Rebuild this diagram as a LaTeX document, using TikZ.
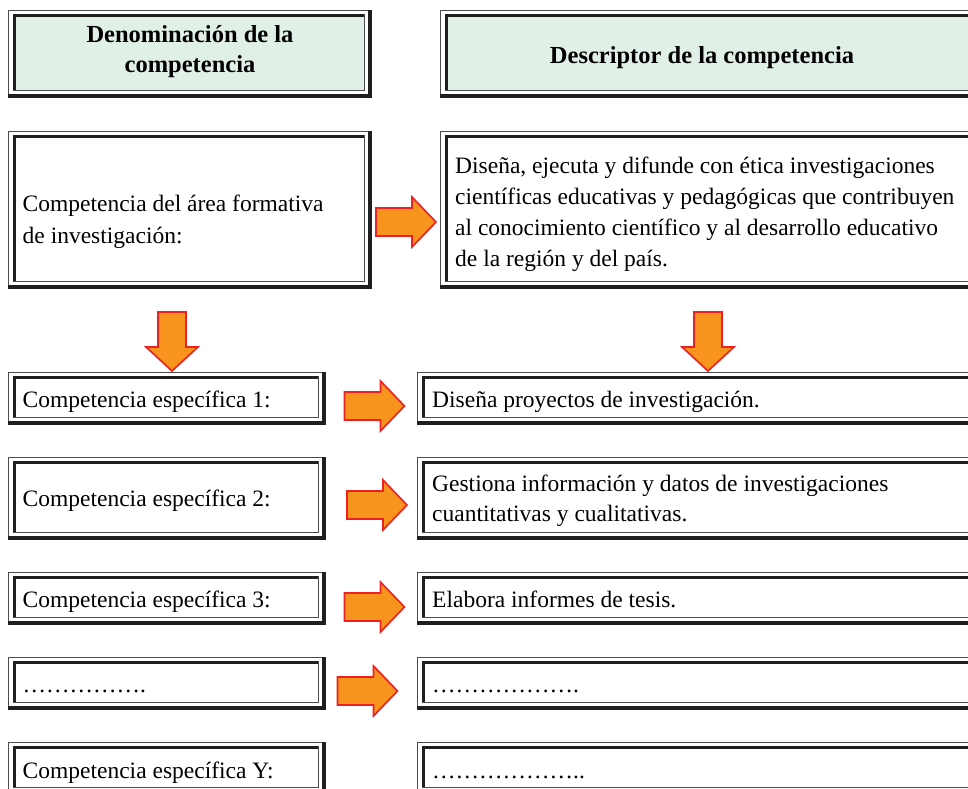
\documentclass[tikz,border=0pt]{standalone}
\usepackage{fontspec}
\setmainfont{Liberation Serif}
\definecolor{hdrfill}{RGB}{224,240,230}
\definecolor{arrfill}{RGB}{247,148,30}
\definecolor{arrline}{RGB}{237,32,36}
\newcommand\frmcode{%
 \draw[line width=1.2pt, black!70] ([xshift=.6pt]path picture bounding box.south west) -- ([shift={(.6pt,-.6pt)}]path picture bounding box.north west) -- ([yshift=-.6pt]path picture bounding box.north east);
 \draw[line width=4pt, black!88] ([xshift=-2pt]path picture bounding box.north east) -- ([shift={(-2pt,2pt)}]path picture bounding box.south east) -- ([yshift=2pt]path picture bounding box.south west);
 \draw[line width=3.5pt, black!88] ([shift={(6.5pt,7.5pt)}]path picture bounding box.south west) -- ([shift={(6.5pt,-5.2pt)}]path picture bounding box.north west) -- ([shift={(-7.5pt,-5.2pt)}]path picture bounding box.north east);
 \draw[line width=1.2pt, black!70] ([shift={(-7.5pt,-3.5pt)}]path picture bounding box.north east) -- ([shift={(-7.5pt,7.5pt)}]path picture bounding box.south east) -- ([shift={(4.8pt,7.5pt)}]path picture bounding box.south west);
}
\newcommand\fillcode{%
 \fill[hdrfill] ([shift={(8pt,7.5pt)}]path picture bounding box.south west) rectangle ([shift={(-7.5pt,-7pt)}]path picture bounding box.north east);
}
\newcommand\lns[1]{\begin{tabular}[t]{@{}l@{}}#1\end{tabular}}
\newcommand\clns[1]{\begin{tabular}[t]{@{}c@{}}#1\end{tabular}}
\tikzset{
 dbox/.style={rectangle, anchor=north west, inner sep=0pt, path picture={\frmcode}},
 hbox/.style={dbox, path picture={\fillcode\frmcode}},
 txt/.style={anchor=base west, inner sep=0pt, font=\fontsize{23.5}{31}\selectfont},
 htxt/.style={anchor=base, inner sep=0pt, font=\fontsize{24.5}{30}\selectfont\bfseries},
 arrowst/.style={fill=arrfill, draw=arrline, line width=1.6pt, line join=miter},
 rarr/.pic={\filldraw[arrowst] (-30,-14) -- (6,-14) -- (6,-25) -- (30,0) -- (6,25) -- (6,14) -- (-30,14) -- cycle;},
 darr/.pic={\filldraw[arrowst] (-14,0) -- (14,0) -- (14,35) -- (26,35) -- (0,59) -- (-26,35) -- (-14,35) -- cycle;}
}
\begin{document}
\begin{tikzpicture}[x=1pt,y=-1pt]
\path[use as bounding box, fill=white] (0,0) rectangle (968,788);
% headers
\node[hbox, minimum width=364pt, minimum height=88pt] (h1) at (8,10) {};
\node[hbox, minimum width=540pt, minimum height=88pt] (h2) at (440,10) {};
\node[htxt] (h1t) at (190,42.5) {\clns{Denominación de la\\competencia}};
\node[htxt] (h2t) at (702,63) {Descriptor de la competencia};
% row 2
\node[dbox, minimum width=364pt, minimum height=158pt] (a0) at (8,131) {};
\node[dbox, minimum width=540pt, minimum height=158pt] (b0) at (440,131) {};
\node[txt, font=\fontsize{23.5}{32}\selectfont] (a0t) at (22.5,211) {\lns{Competencia del área formativa\\de investigación:}};
\node[txt] (b0t) at (455,173) {\lns{Diseña, ejecuta y difunde con ética investigaciones\\científicas educativas y pedagógicas que contribuyen\\al conocimiento científico y al desarrollo educativo\\de la región y del país.}};
% lower rows: frames
\node[dbox, minimum width=318pt, minimum height=53pt] (a1) at (8,372) {};
\node[dbox, minimum width=563pt, minimum height=53pt] (b1) at (417,372) {};
\node[dbox, minimum width=318pt, minimum height=83pt] (a2) at (8,457) {};
\node[dbox, minimum width=563pt, minimum height=83pt] (b2) at (417,457) {};
\node[dbox, minimum width=318pt, minimum height=53pt] (a3) at (8,572) {};
\node[dbox, minimum width=563pt, minimum height=53pt] (b3) at (417,572) {};
\node[dbox, minimum width=318pt, minimum height=53pt] (a4) at (8,657) {};
\node[dbox, minimum width=563pt, minimum height=53pt] (b4) at (417,657) {};
\node[dbox, minimum width=318pt, minimum height=53pt] (a5) at (8,742) {};
\node[dbox, minimum width=563pt, minimum height=53pt] (b5) at (417,742) {};
% lower rows: texts
\node[txt] (a1t) at (22.5,407.5) {Competencia específica 1:};
\node[txt] (b1t) at (432,407.5) {Diseña proyectos de investigación.};
\node[txt] (a2t) at (22.5,506.5) {Competencia específica 2:};
\node[txt, font=\fontsize{23.5}{30}\selectfont] (b2t) at (432,491) {\lns{Gestiona información y datos de investigaciones\\cuantitativas y cualitativas.}};
\node[txt] (a3t) at (22.5,607.5) {Competencia específica 3:};
\node[txt] (b3t) at (432,607.5) {Elabora informes de tesis.};
\node[txt] (a4t) at (22.5,692) {…………….};
\node[txt] (b4t) at (432,692) {……………….};
\node[txt] (a5t) at (22.5,778) {Competencia específica Y:};
\node[txt] (b5t) at (432,778) {………………..};
% arrows
\pic at (406,222) {rarr};
\pic at (172,312) {darr};
\pic at (708,312) {darr};
\pic at (374.5,406) {rarr};
\pic at (377,505) {rarr};
\pic at (374.5,607) {rarr};
\pic at (367.5,691) {rarr};
\end{tikzpicture}
\end{document}
